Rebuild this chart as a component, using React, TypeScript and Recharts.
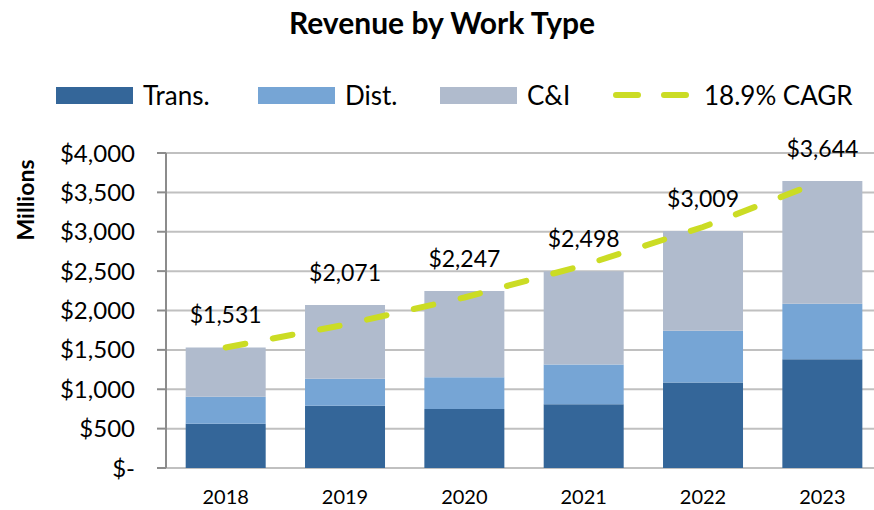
import React from "react";
import { ComposedChart, Bar, Line, XAxis, YAxis, CartesianGrid, LabelList } from "recharts";

const years = ["2018", "2019", "2020", "2021", "2022", "2023"];
const trans = [561, 790, 748, 811, 1085, 1381];
const dist = [343, 342, 405, 502, 659, 705];
const cni = [627, 939, 1094, 1185, 1265, 1558];
const totals = [1531, 2071, 2247, 2498, 3009, 3644];
const cagr = [1531, 1820, 2165, 2574, 3060, 3644];
const yTicks = [0, 500, 1000, 1500, 2000, 2500, 3000, 3500, 4000];
const boundaryTicks = [0, 1, 2, 3, 4, 5, 6];

const data = years.map((year, i) => ({
  year,
  trans: trans[i],
  dist: dist[i],
  cni: cni[i],
  total: totals[i],
  cagr: cagr[i],
}));

const FONT = "Lato, 'Open Sans', sans-serif";
const C_TRANS = "#346699";
const C_DIST = "#76a5d5";
const C_CNI = "#b0bbcd";
const C_LINE = "#cbdc24";
const AXIS = "#8c8c8c";

const fmtMoney = (v: number) => (v === 0 ? "$-" : "$" + v.toLocaleString("en-US"));

const LegendBlock = () => {
  const txt: React.CSSProperties = { fontSize: 26, color: "#000", fontFamily: FONT, lineHeight: "30px", whiteSpace: "nowrap" };
  const box = (c: string): React.CSSProperties => ({ width: 77, height: 17, background: c, marginRight: 10 });
  const item = (left: number): React.CSSProperties => ({ position: "absolute", left, top: 0, display: "flex", alignItems: "center", height: 30 });
  return (
    <div style={{ position: "absolute", left: 56, top: 80, width: 818, height: 30 }}>
      <div style={item(0)}>
        <div style={box(C_TRANS)} />
        <span style={txt}>Trans.</span>
      </div>
      <div style={item(202)}>
        <div style={box(C_DIST)} />
        <span style={txt}>Dist.</span>
      </div>
      <div style={item(384)}>
        <div style={box(C_CNI)} />
        <span style={txt}>C&amp;I</span>
      </div>
      <div style={item(557)}>
        <svg width={78} height={20} style={{ marginRight: 13 }}>
          <line x1={3} y1={10} x2={73} y2={10} stroke={C_LINE} strokeWidth={6} strokeLinecap="round" strokeDasharray="22 26" />
        </svg>
        <span style={txt}>18.9% CAGR</span>
      </div>
    </div>
  );
};

export default function App() {
  return (
    <div style={{ position: "absolute", left: 0, top: 0, width: 874, height: 510, overflow: "hidden", background: "#fff", fontFamily: FONT }}>
      <div
        style={{
          position: "absolute",
          left: 442,
          top: 22,
          transform: "translate(-50%, -50%)",
          fontSize: 30,
          fontWeight: 700,
          whiteSpace: "nowrap",
          color: "#000",
        }}
      >
        Revenue by Work Type
      </div>
      <div
        style={{
          position: "absolute",
          left: 25,
          top: 200,
          transform: "translate(-50%, -50%) rotate(-90deg)",
          fontSize: 23,
          fontWeight: 700,
          whiteSpace: "nowrap",
          color: "#000",
        }}
      >
        Millions
      </div>
      <LegendBlock />
      <ComposedChart
        width={890}
        height={510}
        data={data}
        margin={{ top: 153, right: 8, bottom: 12, left: 0 }}
        barCategoryGap="16.5%"
        style={{ position: "absolute", left: 0, top: 0 }}
      >
        <CartesianGrid vertical={false} stroke="#c0c0c0" strokeWidth={2} />
        <XAxis
          xAxisId="b"
          type="number"
          domain={[0, 6]}
          ticks={boundaryTicks}
          allowDataOverflow
          tick={false}
          tickSize={6}
          height={0}
          axisLine={{ stroke: AXIS, strokeWidth: 2 }}
          tickLine={{ stroke: AXIS, strokeWidth: 2 }}
        />
        <XAxis
          dataKey="year"
          height={30}
          axisLine={false}
          tickLine={false}
          tickSize={0}
          tickMargin={22}
          tick={{ fontSize: 20, fill: "#000", fontFamily: FONT }}
        />
        <YAxis
          width={166}
          domain={[0, 4000]}
          ticks={yTicks}
          tickFormatter={fmtMoney}
          tickSize={9}
          tickMargin={22}
          axisLine={{ stroke: AXIS, strokeWidth: 2 }}
          tickLine={{ stroke: AXIS, strokeWidth: 2 }}
          tick={{ fontSize: 24, fill: "#000", fontFamily: FONT }}
        />
        <Bar dataKey="trans" stackId="a" fill={C_TRANS} isAnimationActive={false} />
        <Bar dataKey="dist" stackId="a" fill={C_DIST} isAnimationActive={false} />
        <Bar dataKey="cni" stackId="a" fill={C_CNI} isAnimationActive={false}>
          <LabelList
            dataKey="total"
            position="top"
            offset={24}
            formatter={(v: number) => fmtMoney(v)}
            style={{ fontSize: 23, fill: "#000", fontFamily: FONT }}
          />
        </Bar>
        <Line
          dataKey="cagr"
          stroke={C_LINE}
          strokeWidth={6}
          strokeLinecap="round"
          strokeDasharray="20 28"
          dot={false}
          type="linear"
          isAnimationActive={false}
        />
      </ComposedChart>
    </div>
  );
}
